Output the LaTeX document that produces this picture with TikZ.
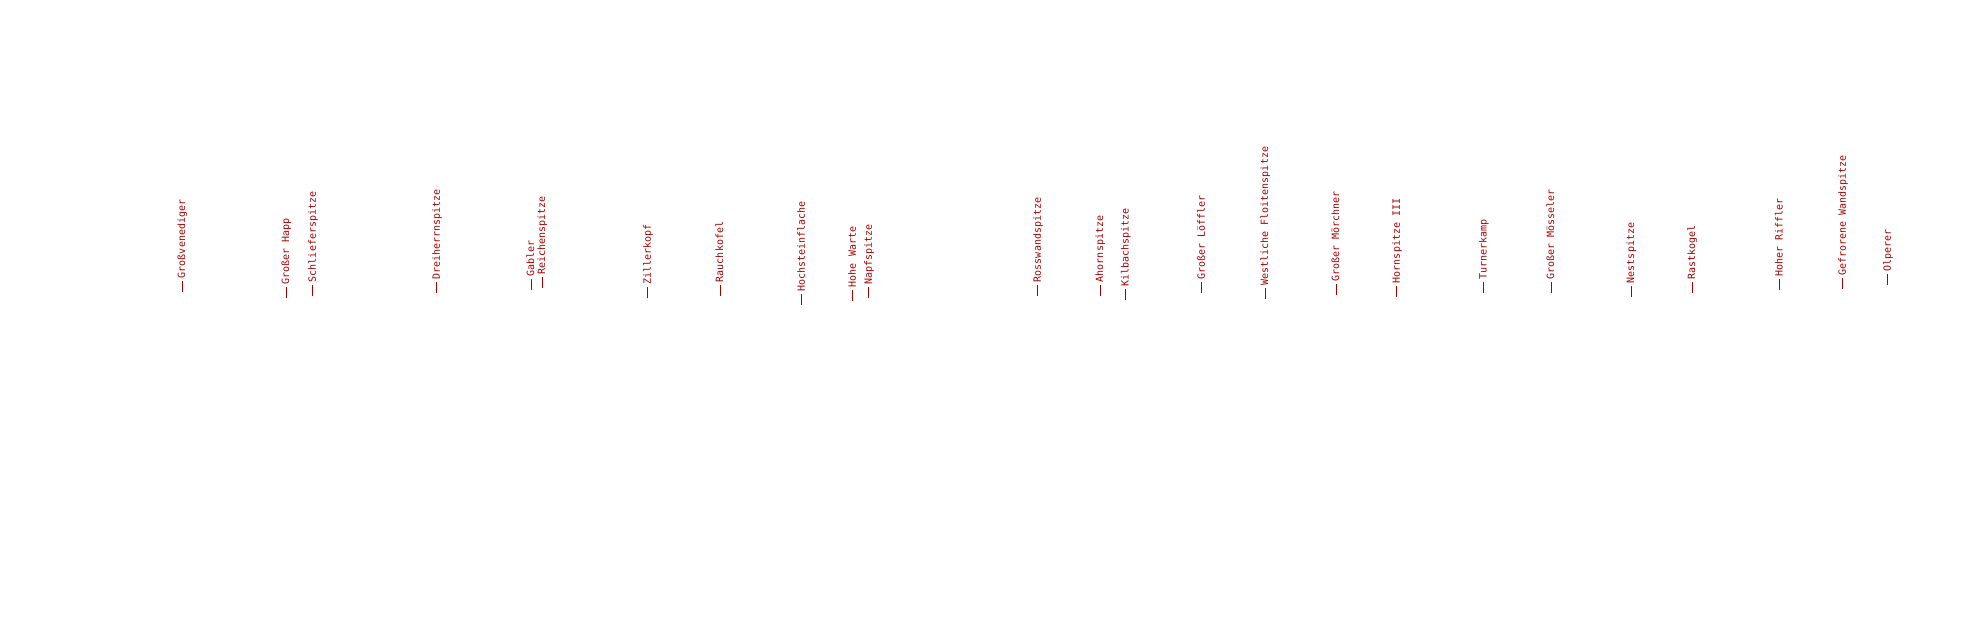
\documentclass[tikz,border=0pt]{standalone}
\usepackage{fontspec}
\newfontfamily\pkmono{DejaVu Sans Mono}
\definecolor{pkred}{RGB}{165,0,0}
\newcommand\pktick{\rule[2.5pt]{11pt}{1pt}\hspace{2.6pt}}
\tikzset{peaklabel/.style={font=\fontsize{10}{12}\selectfont\pkmono, text=pkred, inner sep=0pt, outer sep=0pt, rotate=90, anchor=base west}}
\begin{document}
\begin{tikzpicture}[x=1pt,y=1pt]
\fill[white] (0,0) rectangle (1963,620);
\useasboundingbox (0,0) rectangle (1963,620);
\foreach \px/\py/\nm [count=\i] in {
 185.2/328.3/Großvenediger,
 289.2/321.7/Großer Happ,
 315.8/324.3/Schlieferspitze,
 439.8/326.7/Dreiherrnspitze,
 534.2/330/Gabler,
 545.2/331.7/Reichenspitze,
 650.8/321.7/Zillerkopf,
 723.2/324.3/Rauchkofel,
 804.8/315/Hochsteinflache,
 855.8/319.3/Hohe Warte,
 871.8/321.7/Napfspitze,
 1040.8/324.3/Rosswandspitze,
 1103.2/324.3/Ahornspitze,
 1128.5/320/Kilbachspitze,
 1204.8/326.7/Großer Löffler,
 1268.2/321/Westliche Floitenspitze,
 1339.2/325/Großer Mörchner,
 1399.8/323.3/Hornspitze III,
 1486.5/326.7/Turnerkamp,
 1554.2/326.7/Großer Mösseler,
 1634.2/323.3/Nestspitze,
 1695.2/326.7/Rastkogel,
 1782.5/330/Hoher Riffler,
 1845.8/331/Gefrorene Wandspitze,
 1890.8/335/Olperer}
 \node[peaklabel] (peak\i) at (\px,\py) {\pktick\nm};
\end{tikzpicture}
\end{document}
